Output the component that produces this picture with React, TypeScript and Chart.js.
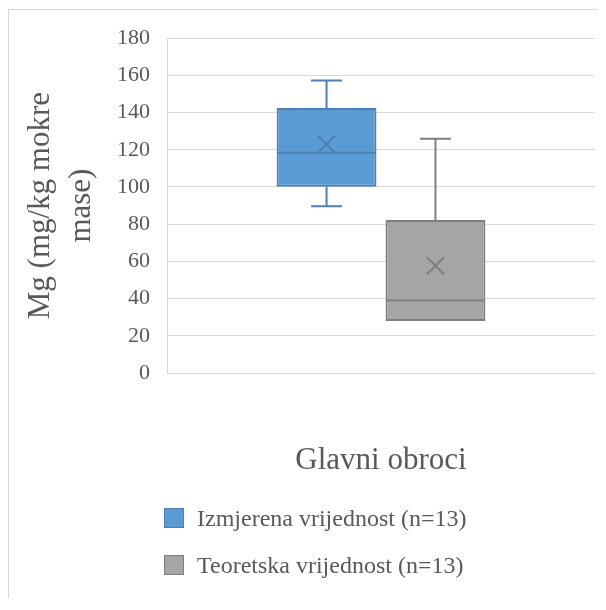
import React, { useEffect, useRef } from 'react';
import { Chart, registerables } from 'chart.js';

Chart.register(...registerables);

// ---- data ----
const categories = ['Glavni obroci'];
const seriesNames = ['Izmjerena vrijednost (n=13)', 'Teoretska vrijednost (n=13)'];
const minValues = [89.6, 28.0];
const q1Values = [100.2, 28.0];
const medianValues = [118.4, 39.0];
const q3Values = [142.5, 82.3];
const maxValues = [157.3, 126.0];
const meanValues = [123.0, 57.7];
const yMin = 0;
const yMax = 180;
const yStep = 20;
const yTitle = ['Mg (mg/kg mokre', 'mase)'];

// ---- styles ----
const fillColors = ['#5B9BD5', '#A5A5A5'];
const lineColors = ['#4C80B3', '#7F7F7F'];
const FONT = '"Liberation Serif", "Times New Roman", serif';
const TEXT = '#595959';
const GRID = '#D9D9D9';

const boxPlugin = {
  id: 'boxWhiskers',
  afterDatasetsDraw(chart: any) {
    const ctx = chart.ctx;
    const ys = chart.scales.y;
    chart.data.datasets.forEach((_ds: any, i: number) => {
      const meta = chart.getDatasetMeta(i);
      meta.data.forEach((bar: any) => {
        const { x, width } = bar.getProps(['x', 'width'], true);
        const half = width / 2;
        const cap = 15.5;
        const yQ1 = ys.getPixelForValue(q1Values[i]);
        const yQ3 = ys.getPixelForValue(q3Values[i]);
        const yMinP = ys.getPixelForValue(minValues[i]);
        const yMaxP = ys.getPixelForValue(maxValues[i]);
        const yMed = ys.getPixelForValue(medianValues[i]);
        const yMean = ys.getPixelForValue(meanValues[i]);
        ctx.save();
        ctx.strokeStyle = lineColors[i];
        ctx.lineWidth = 2;
        ctx.lineCap = 'butt';
        ctx.beginPath();
        if (maxValues[i] > q3Values[i]) {
          ctx.moveTo(x, yQ3);
          ctx.lineTo(x, yMaxP);
          ctx.moveTo(x - cap, yMaxP);
          ctx.lineTo(x + cap, yMaxP);
        }
        if (minValues[i] < q1Values[i]) {
          ctx.moveTo(x, yQ1);
          ctx.lineTo(x, yMinP);
          ctx.moveTo(x - cap, yMinP);
          ctx.lineTo(x + cap, yMinP);
        }
        ctx.moveTo(x - half + 1, yMed);
        ctx.lineTo(x + half - 1, yMed);
        ctx.stroke();
        // mean marker
        const m = 8.5;
        ctx.beginPath();
        ctx.moveTo(x - m, yMean - m);
        ctx.lineTo(x + m, yMean + m);
        ctx.moveTo(x + m, yMean - m);
        ctx.lineTo(x - m, yMean + m);
        ctx.stroke();
        ctx.restore();
      });
    });
  },
};

export default function App() {
  const ref = useRef<HTMLCanvasElement>(null);

  useEffect(() => {
    if (!ref.current) return;
    const chart = new Chart(ref.current, {
      type: 'bar',
      data: {
        labels: categories,
        datasets: seriesNames.map((name, i) => ({
          label: name,
          data: [[q1Values[i], q3Values[i]]] as any,
          backgroundColor: fillColors[i],
          borderColor: lineColors[i],
          borderWidth: 2,
          borderSkipped: false,
          categoryPercentage: 0.509,
          barPercentage: 0.917,
        })),
      },
      options: {
        responsive: false,
        animation: false,
        devicePixelRatio: 1,
        layout: { padding: { top: 29, right: 11, left: 0, bottom: 0 } },
        plugins: {
          legend: { display: false },
          tooltip: { enabled: false },
        },
        scales: {
          x: {
            grid: { display: false, drawTicks: false },
            border: { display: false },
            ticks: {
              padding: 69,
              color: TEXT,
              font: { family: FONT, size: 31 },
            },
            afterFit: (s: any) => {
              s.height = 106;
            },
          },
          y: {
            min: yMin,
            max: yMax,
            ticks: {
              stepSize: yStep,
              padding: 17,
              color: TEXT,
              font: { family: FONT, size: 22 },
            },
            grid: { color: GRID, lineWidth: 1, drawTicks: false },
            border: { display: true, color: GRID, width: 1 },
            title: {
              display: true,
              text: yTitle,
              color: TEXT,
              font: { family: FONT, size: 31, lineHeight: 1.32 },
              padding: { top: 12.5, bottom: 14.5 },
            },
            afterFit: (s: any) => {
              s.width = 159;
            },
          },
        },
      },
      plugins: [boxPlugin],
    });
    return () => chart.destroy();
  }, []);

  return (
    <div style={{ position: 'relative', width: 598, height: 590, fontFamily: FONT }}>
      <div
        style={{
          position: 'absolute',
          left: 0,
          top: 1,
          width: 598,
          height: 589,
          borderLeft: `1px solid ${GRID}`,
          borderTop: `1px solid ${GRID}`,
          boxSizing: 'border-box',
          pointerEvents: 'none',
        }}
      />
      <canvas ref={ref} width={598} height={471} style={{ display: 'block', width: 598, height: 471 }} />
      <div style={{ position: 'absolute', left: 156, top: 500 }}>
        {seriesNames.map((name, i) => (
          <div
            key={name}
            style={{ display: 'flex', alignItems: 'center', height: 20, marginBottom: 27 }}
          >
            <div
              style={{
                width: 20,
                height: 20,
                boxSizing: 'border-box',
                background: fillColors[i],
                border: `1.5px solid ${lineColors[i]}`,
              }}
            />
            <span
              style={{
                marginLeft: 13,
                fontSize: 24,
                lineHeight: '20px',
                color: TEXT,
                whiteSpace: 'nowrap',
              }}
            >
              {name}
            </span>
          </div>
        ))}
      </div>
    </div>
  );
}
